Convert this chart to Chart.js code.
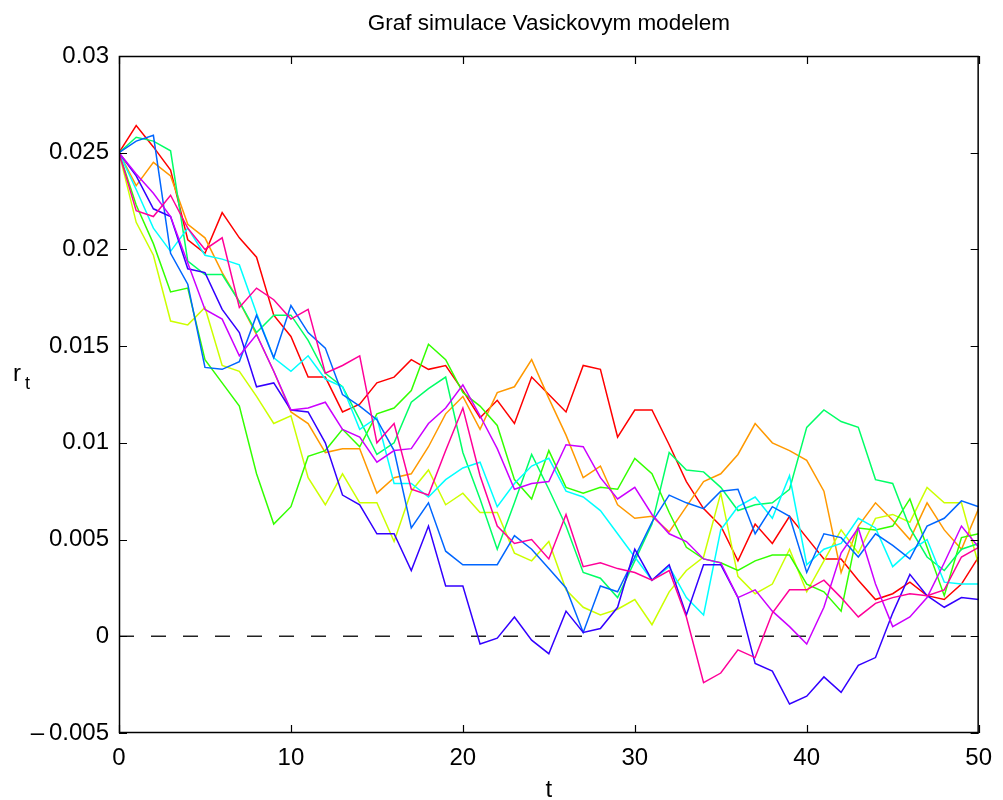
<!DOCTYPE html>
<html>
<head>
<meta charset="utf-8">
<script src="https://cdn.jsdelivr.net/npm/chart.js@4/dist/chart.umd.min.js"></script>
<style>
html,body{margin:0;padding:0;background:#fff;}
#wrap{width:1003px;height:800px;position:relative;}
</style>
</head>
<body>
<div id="wrap"><canvas id="c" width="1003" height="800"></canvas></div>
<script>
// ---- data ----
const tValues = Array.from({length: 51}, (_, i) => i);
const xTicks = [0, 10, 20, 30, 40, 50];
const yTickLabels = ['\u2013\u20090.005', '0', '0.005', '0.01', '0.015', '0.02', '0.025', '0.03'];
const titleText = 'Graf simulace Vasickovym modelem';
const zeroLineT = [0, 50];
const zeroLineV = [0, 0];

const seriesRed = [0.025,0.0264,0.0253,0.0241,0.0205,0.0198,0.0219,0.0206,0.0196,0.0166,0.0155,0.0134,0.0134,0.0116,0.0120,0.0131,0.0134,0.0143,0.0138,0.0140,0.0127,0.0113,0.0122,0.0110,0.0134,0.0125,0.0116,0.0140,0.0138,0.0103,0.0117,0.0117,0.0099,0.0080,0.0066,0.0057,0.0039,0.0058,0.0048,0.0062,0.0051,0.0040,0.0040,0.0029,0.0019,0.0022,0.0028,0.0021,0.0019,0.0027,0.0041];
const seriesOrange = [0.025,0.0233,0.0245,0.0238,0.0213,0.0206,0.0188,0.0173,0.0156,0.0137,0.0116,0.0110,0.0095,0.0097,0.0097,0.0074,0.0082,0.0084,0.0098,0.0115,0.0124,0.0107,0.0126,0.0129,0.0143,0.0123,0.0104,0.0082,0.0088,0.0068,0.0061,0.0062,0.0054,0.0067,0.0080,0.0084,0.0094,0.0110,0.0100,0.0096,0.0091,0.0075,0.0033,0.0057,0.0069,0.0060,0.0050,0.0069,0.0055,0.0045,0.0066];
const seriesYellow = [0.025,0.0214,0.0197,0.0163,0.0161,0.0170,0.0140,0.0137,0.0124,0.0110,0.0114,0.0082,0.0068,0.0084,0.0069,0.0069,0.0049,0.0075,0.0086,0.0068,0.0074,0.0064,0.0064,0.0043,0.0039,0.0049,0.0024,0.0015,0.0011,0.0014,0.0019,0.0006,0.0023,0.0034,0.0041,0.0074,0.0031,0.0022,0.0027,0.0045,0.0023,0.0039,0.0055,0.0043,0.0061,0.0063,0.0059,0.0077,0.0069,0.0069,0.0037];
const seriesChartreuse = [0.025,0.0223,0.0203,0.0178,0.0180,0.0143,0.0131,0.0119,0.0084,0.0058,0.0067,0.0093,0.0096,0.0107,0.0098,0.0115,0.0118,0.0127,0.0151,0.0143,0.0126,0.0119,0.0109,0.0081,0.0071,0.0096,0.0077,0.0074,0.0077,0.0076,0.0092,0.0084,0.0064,0.0046,0.0040,0.0038,0.0034,0.0039,0.0042,0.0042,0.0027,0.0023,0.0013,0.0056,0.0055,0.0057,0.0071,0.0046,0.0021,0.0051,0.0053];
const seriesSpring = [0.025,0.0258,0.0256,0.0251,0.0194,0.0187,0.0187,0.0173,0.0157,0.0166,0.0166,0.0153,0.0136,0.0129,0.0112,0.0094,0.0100,0.0121,0.0128,0.0134,0.0095,0.0071,0.0045,0.0069,0.0094,0.0076,0.0057,0.0033,0.0030,0.0020,0.0039,0.0058,0.0095,0.0086,0.0085,0.0077,0.0065,0.0068,0.0069,0.0076,0.0108,0.0117,0.0111,0.0108,0.0081,0.0079,0.0056,0.0041,0.0034,0.0045,0.0048];
const seriesCyan = [0.025,0.0231,0.0211,0.0199,0.0211,0.0197,0.0195,0.0192,0.0167,0.0144,0.0137,0.0145,0.0133,0.0129,0.0107,0.0113,0.0079,0.0079,0.0072,0.0081,0.0087,0.0090,0.0067,0.0079,0.0088,0.0092,0.0075,0.0072,0.0065,0.0053,0.0041,0.0029,0.0036,0.0020,0.0011,0.0055,0.0067,0.0072,0.0061,0.0083,0.0037,0.0045,0.0048,0.0061,0.0056,0.0036,0.0044,0.0050,0.0028,0.0027,0.0027];
const seriesAzure = [0.025,0.0256,0.0259,0.0198,0.0182,0.0139,0.0138,0.0142,0.0166,0.0144,0.0171,0.0157,0.0149,0.0125,0.0119,0.0112,0.0096,0.0056,0.0069,0.0044,0.0037,0.0037,0.0037,0.0052,0.0045,0.0035,0.0025,0.0002,0.0026,0.0023,0.0041,0.0059,0.0073,0.0069,0.0066,0.0075,0.0076,0.0053,0.0067,0.0062,0.0033,0.0053,0.0051,0.0041,0.0053,0.0047,0.0040,0.0057,0.0061,0.0070,0.0067];
const seriesIndigo = [0.025,0.0238,0.0221,0.0217,0.0190,0.0188,0.0169,0.0157,0.0129,0.0131,0.0117,0.0116,0.0100,0.0073,0.0068,0.0053,0.0053,0.0034,0.0057,0.0026,0.0026,-0.0004,-0.0001,0.0010,-0.0002,-0.0009,0.0013,0.0002,0.0004,0.0015,0.0045,0.0029,0.0037,0.0011,0.0037,0.0037,0.0020,-0.0014,-0.0018,-0.0035,-0.0031,-0.0021,-0.0029,-0.0015,-0.0011,0.0012,0.0032,0.0021,0.0015,0.0020,0.0019];
const seriesPurple = [0.025,0.0239,0.0229,0.0217,0.0193,0.0169,0.0164,0.0145,0.0156,0.0137,0.0117,0.0118,0.0121,0.0107,0.0103,0.0090,0.0096,0.0097,0.0110,0.0118,0.0130,0.0114,0.0097,0.0076,0.0079,0.0080,0.0099,0.0098,0.0082,0.0071,0.0077,0.0063,0.0053,0.0049,0.0040,0.0038,0.0020,0.0024,0.0013,0.0005,-0.0004,0.0015,0.0043,0.0056,0.0027,0.0005,0.0010,0.0020,0.0038,0.0057,0.0046];
const seriesPink = [0.025,0.0220,0.0217,0.0228,0.0211,0.0200,0.0206,0.0170,0.0180,0.0174,0.0164,0.0169,0.0136,0.0140,0.0145,0.0100,0.0110,0.0076,0.0073,0.0096,0.0118,0.0083,0.0057,0.0048,0.0050,0.0040,0.0063,0.0036,0.0038,0.0035,0.0033,0.0029,0.0034,0.0010,-0.0024,-0.0019,-0.0007,-0.0011,0.0012,0.0024,0.0024,0.0029,0.0020,0.0010,0.0017,0.0020,0.0022,0.0021,0.0024,0.0041,0.0046];

const allSeries = [seriesRed, seriesOrange, seriesYellow, seriesChartreuse, seriesSpring, seriesCyan, seriesAzure, seriesIndigo, seriesPurple, seriesPink];
const seriesColors = ['#ff0000','#ff9900','#ccff00','#33ff00','#00ff66','#00ffff','#0066ff','#3300ff','#cc00ff','#ff0099'];

// ---- chart ----
const FONT = "'Liberation Sans', Arial, Helvetica, sans-serif";
const datasets = allSeries.map((s, i) => ({
  data: tValues.map((t, k) => ({x: t, y: s[k]})),
  borderColor: seriesColors[i],
  borderWidth: 1.5,
  pointRadius: 0,
  tension: 0,
  fill: false,
  order: allSeries.length - i
}));
datasets.push({
  data: zeroLineT.map((t, k) => ({x: t, y: zeroLineV[k]})),
  borderColor: '#222222',
  borderWidth: 1.5,
  borderDash: [15, 17],
  pointRadius: 0,
  fill: false,
  order: allSeries.length + 1
});

const decor = {
  id: 'decor',
  afterDraw(chart) {
    const {ctx, chartArea: a, scales: {x, y}} = chart;
    ctx.save();
    ctx.strokeStyle = '#000';
    ctx.lineWidth = 1.5;
    ctx.strokeRect(a.left + 0.5, a.top + 0.5, a.right - a.left - 1, a.bottom - a.top - 1);
    const L = 8;
    ctx.lineWidth = 1.2;
    ctx.beginPath();
    xTicks.forEach(v => {
      const px = Math.round(x.getPixelForValue(v)) + 0.5;
      ctx.moveTo(px, a.bottom); ctx.lineTo(px, a.bottom - L);
      ctx.moveTo(px, a.top); ctx.lineTo(px, a.top + L);
    });
    y.ticks.forEach(tk => {
      const py = Math.round(y.getPixelForValue(tk.value)) + 0.5;
      ctx.moveTo(a.left, py); ctx.lineTo(a.left + L, py);
      ctx.moveTo(a.right, py); ctx.lineTo(a.right - L, py);
    });
    ctx.stroke();
    ctx.fillStyle = '#000';
    ctx.textAlign = 'center';
    ctx.textBaseline = 'alphabetic';
    ctx.font = '22.5px ' + FONT;
    ctx.fillText(titleText, (a.left + a.right) / 2, 30);
    ctx.font = '24px ' + FONT;
    ctx.fillText('t', (a.left + a.right) / 2, 797);
    ctx.textAlign = 'left';
    ctx.fillText('r', 13, 381);
    ctx.font = '18px ' + FONT;
    ctx.fillText('t', 25, 389);
    ctx.restore();
  }
};

new Chart(document.getElementById('c'), {
  type: 'line',
  data: {datasets},
  options: {
    responsive: false,
    animation: false,
    layout: {padding: {left: 0, top: 56, right: 23, bottom: 0}},
    plugins: {legend: {display: false}, tooltip: {enabled: false}, title: {display: false}},
    scales: {
      x: {
        type: 'linear', min: 0, max: 50,
        afterFit(s) { s.height = 67; },
        afterBuildTicks(s) { s.ticks = xTicks.map(v => ({value: v})); },
        grid: {display: false, drawTicks: false},
        border: {display: false},
        ticks: {font: {family: FONT, size: 24}, color: '#000', padding: 11, maxRotation: 0}
      },
      y: {
        type: 'linear', min: -0.005, max: 0.03,
        afterFit(s) { s.width = 119; },
        grid: {display: false, drawTicks: false},
        border: {display: false},
        ticks: {stepSize: 0.005, font: {family: FONT, size: 24}, color: '#000', padding: 10,
          callback: (v, i) => yTickLabels[i]}
      }
    }
  },
  plugins: [decor]
});
</script>
</body>
</html>
